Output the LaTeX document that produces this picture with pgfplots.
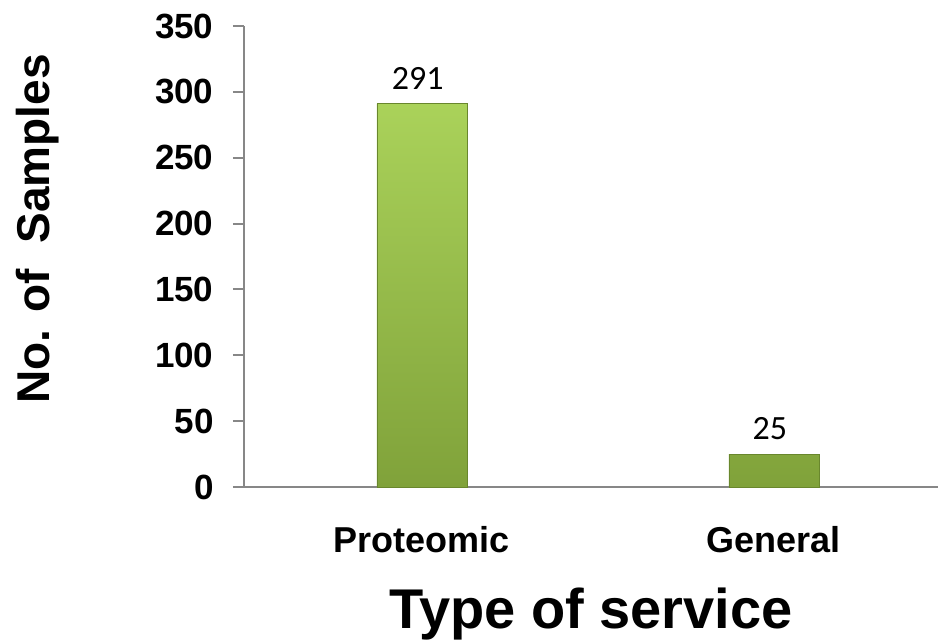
\documentclass[border=0pt]{standalone}
\usepackage{fontspec}
\setmainfont{Liberation Sans}
\newfontfamily\calib{Carlito}
\usepackage{pgfplots}
\pgfplotsset{compat=1.18}

\definecolor{bartop}{RGB}{170,210,90}
\definecolor{barbot}{RGB}{128,162,58}
\definecolor{baredge}{RGB}{105,135,45}
\definecolor{axgray}{RGB}{135,135,135}

\begin{document}
\begin{tikzpicture}
\begin{axis}[
    scale only axis,
    width=694bp, height=461bp,
    xmin=-0.505, xmax=1.466,
    ymin=0, ymax=350,
    axis lines*=left,
    axis line style={axgray, line width=2bp},
    xtick={0,1},
    xticklabels={Proteomic, General},
    x tick label style={font=\fontsize{36bp}{40bp}\selectfont\bfseries, yshift=-25bp},
    ytick={0,50,...,350},
    y tick label style={font=\fontsize{35bp}{40bp}\selectfont\bfseries, xshift=-16bp},
    /pgf/number format/assume math mode=true,
    tick align=outside,
    ytick pos=left,
    xtick style={draw=none},
    ytick style={axgray, line width=2bp},
    major tick length=11bp,
    xlabel={Type of service},
    xlabel style={font=\fontsize{56bp}{60bp}\selectfont\bfseries, at={(axis description cs:0.5,0)}, anchor=north, yshift=-97bp},
    ylabel={No. of\ \ Samples},
    ylabel style={font=\fontsize{46bp}{52bp}\selectfont\bfseries, at={(axis description cs:-0.297,0.56)}, anchor=center},
    clip=false,
]
\addplot[ybar, bar width=90bp, draw=baredge, line width=0.6bp,
    top color=bartop, bottom color=barbot] coordinates {(0,291) (1,25)};
% value labels
\addplot[only marks, mark=none, nodes near coords,
    every node near coord/.append style={font=\calib\fontsize{34bp}{38bp}\selectfont, text=black, anchor=south, yshift=11bp, xshift=-4bp}]
    coordinates {(0,291) (1,25)};
\end{axis}
\pgfresetboundingbox
\useasboundingbox (-244bp,-153bp) rectangle (694bp,487bp);
\end{tikzpicture}
\end{document}
